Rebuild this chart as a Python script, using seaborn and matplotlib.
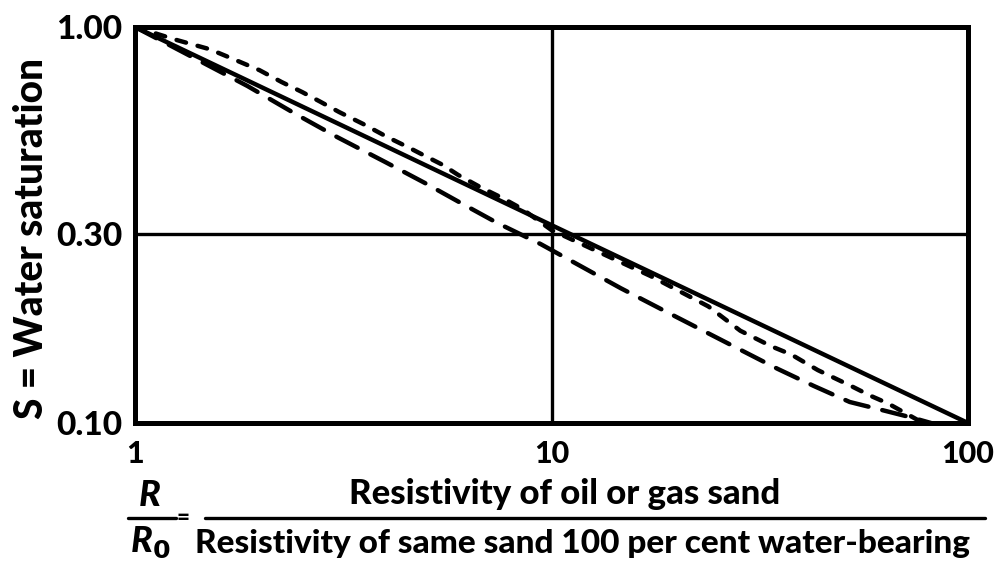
import matplotlib
matplotlib.use("Agg")
import matplotlib.pyplot as plt
from matplotlib.lines import Line2D
import seaborn as sns

# Resistivity ratio R/R0 and water saturation S for each curve
solid_ratio = [1.0, 10.0, 100.0]
solid_sat = [1.0, 0.316, 0.10]

long_dash_ratio = [1.0, 1.86, 2.43, 3.06, 3.99, 4.96, 6.04, 7.41, 9.42, 11.75,
                   14.66, 18.49, 28.44, 34.91, 42.66, 52.0, 61.8, 73.8, 81.5]
long_dash_sat = [1.0, 0.710, 0.603, 0.527, 0.456, 0.404, 0.360, 0.320, 0.283, 0.249,
                 0.219, 0.193, 0.153, 0.137, 0.124, 0.113, 0.108, 0.103, 0.10]

short_dash_ratio = [1.0, 1.26, 1.51, 1.68, 1.99, 2.25, 2.52, 2.79, 3.09, 3.53, 4.04,
                    4.51, 4.98, 5.47, 5.97, 6.75, 7.62, 8.51, 10.0, 17.3, 23.8,
                    28.4, 33.8, 37.6, 43.6, 52.4, 58.5, 64.3, 71.8, 78.0]
short_dash_sat = [1.0, 0.927, 0.879, 0.839, 0.778, 0.726, 0.685, 0.647, 0.610, 0.569,
                  0.527, 0.498, 0.472, 0.449, 0.423, 0.394, 0.370, 0.347, 0.307,
                  0.235, 0.197, 0.171, 0.156, 0.149, 0.136, 0.124, 0.117, 0.112,
                  0.105, 0.10]

x_ticks = [1, 10, 100]
x_tick_labels = ["1", "10", "100"]
y_ticks = [0.10, 0.30, 1.00]
y_tick_labels = ["0.10", "0.30", "1.00"]

sns.set_style("white")
plt.rcParams["font.family"] = ["Lato", "DejaVu Sans"]
plt.rcParams["font.weight"] = "black"
plt.rcParams["text.color"] = "black"
plt.rcParams["xtick.color"] = "black"
plt.rcParams["ytick.color"] = "black"

W, H = 995, 561
fig = plt.figure(figsize=(W / 100, H / 100), dpi=100)


def fx(x):
    return x / W


def fy(y):
    return 1 - y / H


ax = fig.add_axes([fx(135), fy(423), fx(968) - fx(135), fy(27) - fy(423)])
ax.set_xscale("log")
ax.set_yscale("log")

LW = 3.2
sns.lineplot(x=solid_ratio, y=solid_sat, ax=ax, color="black", linewidth=LW, sort=False)
sns.lineplot(x=long_dash_ratio, y=long_dash_sat, ax=ax, color="black", linewidth=LW, sort=False)
sns.lineplot(x=short_dash_ratio, y=short_dash_sat, ax=ax, color="black", linewidth=LW, sort=False)
lines = ax.get_lines()
lines[0].set_solid_capstyle("round")
lines[1].set_dashes((5.4, 3.2))
lines[1].set_dash_capstyle("round")
lines[2].set_dashes((2.2, 2.7))
lines[2].set_dash_capstyle("round")

# Reference cross lines at R/R0 = 10 and S = 0.30
ax.axvline(10, color="black", linewidth=2.4, zorder=1)
ax.axhline(0.30, color="black", linewidth=2.4, zorder=1)

ax.set_xlim(1, 100)
ax.set_ylim(0.10, 1.00)
ax.set_xticks(x_ticks)
ax.set_xticklabels(x_tick_labels)
ax.set_yticks(y_ticks)
ax.set_yticklabels(y_tick_labels)
ax.minorticks_off()
ax.tick_params(axis="both", length=0)
ax.tick_params(axis="x", pad=12, labelsize=22)
ax.tick_params(axis="y", pad=9, labelsize=24)
for lab in ax.get_xticklabels() + ax.get_yticklabels():
    lab.set_fontweight("black")
for sp in ax.spines.values():
    sp.set_visible(True)
    sp.set_color("black")
    sp.set_linewidth(3.6)
ax.set_xlabel("")
ax.set_ylabel("")

# Vertical axis title
fig.text(fx(32), fy(238), "S = Water saturation", rotation=90, ha="center", va="center",
         fontsize=28, fontweight="black")

# Horizontal axis title written as a fraction
fig.text(fx(150), fy(495), "R", ha="center", va="center", fontsize=26,
         fontweight="black", style="italic")
fig.text(fx(150), fy(542), r"R$_{0}$", ha="center", va="center", fontsize=26,
         fontweight="black", style="italic")
fig.add_artist(Line2D([fx(128), fx(176)], [fy(518), fy(518)], color="black",
                      linewidth=2.4, transform=fig.transFigure))
fig.text(fx(183), fy(518), "=", ha="center", va="center", fontsize=16, fontweight="black")
fig.text(fx(565), fy(494), "Resistivity of oil or gas sand", ha="center", va="center",
         fontsize=25, fontweight="black")
fig.add_artist(Line2D([fx(205), fx(985)], [fy(518), fy(518)], color="black",
                      linewidth=2.4, transform=fig.transFigure))
fig.text(fx(195), fy(544), "Resistivity of same sand 100 per cent water-bearing",
         ha="left", va="center", fontsize=24, fontweight="black")

fig.savefig("out.png", dpi=100)
